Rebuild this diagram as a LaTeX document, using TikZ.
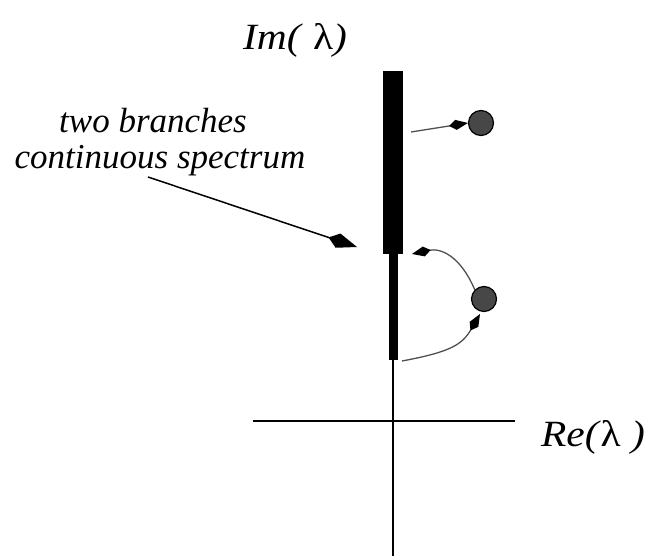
\documentclass[tikz,border=0pt]{standalone}
\usepackage{fontspec}
\setmainfont{Liberation Serif}
\usetikzlibrary{arrows.meta}
\definecolor{dotfill}{HTML}{474747}
\definecolor{linegray}{HTML}{505050}
\tikzset{
  lbl/.style={font=\itshape\fontsize{35}{40}\selectfont, inner sep=0pt},
  axislbl/.style={font=\itshape\fontsize{37}{42}\selectfont, inner sep=0pt, xscale=1.12},
  dot/.style={circle, draw=black, line width=1.2pt, fill=dotfill, minimum size=25pt, inner sep=0pt},
  smallarr/.style={draw=linegray, line width=1.3pt, -{Kite[length=19pt,width=10pt,inset=7pt,fill=black,color=black]}},
  bigarr/.style={draw=black, line width=1.5pt, -{Kite[length=30pt,width=15pt,inset=10pt,fill=black,color=black]}},
  axis/.style={draw=black, line width=1.6pt}
}
\begin{document}
\begin{tikzpicture}[x=1pt,y=-1pt]
\useasboundingbox (0,0) rectangle (647,556);
% axes
\coordinate (hL) at (253,421);
\coordinate (hR) at (515,421);
\coordinate (vT) at (393,360);
\coordinate (vB) at (393,556);
\draw[axis] (hL) -- (hR);
\draw[axis] (vT) -- (vB);
% spectrum bars
\fill[black] (383,71) rectangle (403,254);
\fill[black] (389,254) rectangle (398,360);
% dots
\node[dot] (d1) at (481,123) {};
\node[dot] (d2) at (484,299) {};
% arrow endpoints
\coordinate (a1s) at (411,132);
\coordinate (a2e) at (412,254);
\coordinate (a3s) at (402,361);
\coordinate (a3e) at (480,314);
\coordinate (ptr) at (357,247);
\draw[smallarr] (a1s) -- (d1.west);
\draw[smallarr] (d2.north west) .. controls (460,255) and (440,248) .. (a2e);
\draw[smallarr] (a3s) .. controls (450,352) and (462,345) .. (a3e);
% labels
\node[axislbl] (im) at (295,40) {Im( \textup{λ})};
\node[axislbl] (re) at (593,437) {Re(\textup{λ} )};
\node[lbl] (t1) at (153,121) {two branches};
\node[lbl] (t2) at (160,161) {continuous spectrum};
\coordinate (ps) at (148,177);
\draw[bigarr] (ps) -- (ptr);
\end{tikzpicture}
\end{document}
